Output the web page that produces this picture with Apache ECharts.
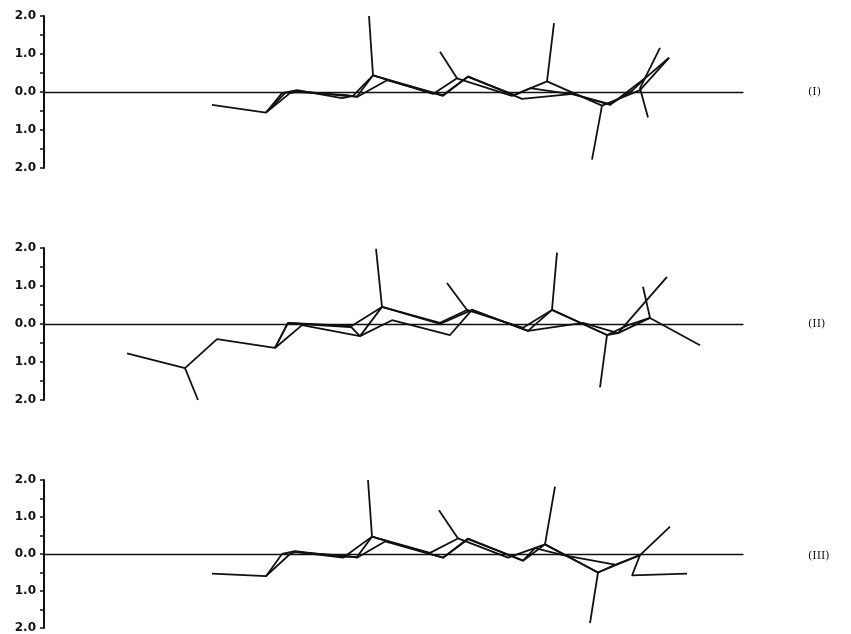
<!DOCTYPE html>
<html>
<head>
<meta charset="utf-8">
<script src="https://cdn.jsdelivr.net/npm/echarts@6/dist/echarts.min.js"></script>
<style>
  html, body { margin: 0; padding: 0; background: #fff; }
  #chart { width: 851px; height: 634px; }
</style>
</head>
<body>
<div id="chart"></div>
<script>
// Three stacked traces (I, II, III). x = position along the chain, y = displacement.
// Each panel: a few overlapping chains plus the short side sticks.

const panelNames = ["(I)", "(II)", "(III)"];

const p1ChainA = [[168,-0.34],[222,-0.54],[238,-0.03],[253,0.05],[298,-0.16],[309,-0.1],[329,0.44],[389,-0.05],[413,0.36],[468,-0.1],[503,0.28],[558,-0.36],[596,0.05],[625,0.9]];
const p1ChainB = [[222,-0.54],[246,-0.03],[253,0.0],[303,-0.08],[313,-0.13],[343,0.31],[399,-0.1],[424,0.41],[478,-0.18],[529,-0.05],[566,-0.34],[601,0.36],[625,0.9]];
const p1ChainC = [[222,-0.54],[241,-0.03],[253,0.03],[301,-0.1],[313,-0.12],[329,0.44],[391,-0.03],[399,-0.08],[424,0.4],[471,-0.08],[486,0.1],[529,-0.06],[566,-0.32],[588,0.03],[601,0.36]];
const p1Sticks = [
  [[329,0.44],[325,2.0]],
  [[413,0.36],[396,1.06]],
  [[503,0.28],[510,1.81]],
  [[558,-0.36],[548,-1.78]],
  [[616,1.16],[596,0.1],[604,-0.67]]
];

const p2ChainA = [[83,-0.77],[141,-1.16],[173,-0.4],[231,-0.63],[244,0.03],[258,0.0],[306,-0.08],[338,0.45],[396,0.03],[423,0.37],[479,-0.1],[508,0.37],[539,0.0],[563,-0.29],[584,-0.03],[606,0.16],[656,-0.56]];
const p2ChainB = [[231,-0.63],[258,-0.03],[316,-0.32],[338,0.45],[396,0.0],[428,0.37],[484,-0.18],[508,0.37],[563,-0.29],[574,-0.24],[623,1.24]];
const p2ChainC = [[231,-0.63],[244,0.03],[306,-0.05],[316,-0.32],[348,0.1],[406,-0.29],[428,0.37],[484,-0.18],[539,0.03],[574,-0.24],[606,0.16]];
const p2Sticks = [
  [[141,-1.16],[154,-2.0]],
  [[338,0.45],[332,1.98]],
  [[423,0.37],[403,1.08]],
  [[508,0.37],[513,1.88]],
  [[563,-0.29],[556,-1.67]],
  [[606,0.16],[599,0.98]]
];

const p3ChainA = [[168,-0.53],[222,-0.6],[238,0.0],[251,0.08],[299,-0.08],[313,-0.08],[328,0.47],[386,0.03],[414,0.42],[464,-0.1],[501,0.26],[554,-0.5],[596,-0.03],[626,0.74]];
const p3ChainB = [[222,-0.6],[246,0.0],[251,0.05],[303,-0.05],[313,-0.1],[341,0.34],[399,-0.1],[424,0.42],[479,-0.18],[491,0.16],[519,-0.03],[571,-0.29],[596,-0.03],[588,-0.58],[643,-0.53]];
const p3ChainC = [[251,0.06],[299,-0.1],[328,0.47],[386,0.0],[399,-0.1],[424,0.4],[479,-0.18],[501,0.26],[554,-0.5],[571,-0.29]];
const p3Sticks = [
  [[328,0.47],[324,2.0]],
  [[414,0.42],[395,1.18]],
  [[501,0.26],[511,1.82]],
  [[554,-0.5],[546,-1.87]]
];

const panels = [
  { chains: [p1ChainA, p1ChainB, p1ChainC], sticks: p1Sticks, top: 16 },
  { chains: [p2ChainA, p2ChainB, p2ChainC], sticks: p2Sticks, top: 248 },
  { chains: [p3ChainA, p3ChainB, p3ChainC], sticks: p3Sticks, top: 480 }
];

const INK = "#111";
const grids = [], xAxes = [], yAxes = [], series = [], texts = [];

panels.forEach((p, i) => {
  grids.push({ left: 44, right: 108, top: p.top, height: 152 });
  xAxes.push({
    type: "value", gridIndex: i, min: 0, max: 699,
    axisLine: { onZero: true, lineStyle: { color: INK, width: 1.3 } },
    axisTick: { show: false }, axisLabel: { show: false }, splitLine: { show: false }
  });
  yAxes.push({
    type: "value", gridIndex: i, min: -2, max: 2, interval: 0.5,
    axisLine: { show: true, lineStyle: { color: INK, width: 2 } },
    axisTick: { show: true, length: 4, lineStyle: { color: INK, width: 1.5 } },
    axisLabel: {
      color: INK, fontFamily: "DejaVu Sans", fontWeight: "bold", fontSize: 12, margin: 8,
      formatter: (v) => (Number.isInteger(v) ? Math.abs(v).toFixed(1) : "")
    },
    splitLine: { show: false }
  });
  const line = (data) => ({
    type: "line", xAxisIndex: i, yAxisIndex: i, data, symbol: "none",
    lineStyle: { color: INK, width: 1.8 }, silent: true
  });
  p.chains.forEach((c) => series.push(line(c)));
  p.sticks.forEach((s) => series.push(line(s)));
  texts.push({
    type: "text", left: 808, top: p.top + 71,
    style: { text: panelNames[i], fill: INK, font: "11px 'DejaVu Serif'" }
  });
});

const chart = echarts.init(document.getElementById("chart"), null, { renderer: "canvas" });
chart.setOption({
  animation: false,
  backgroundColor: "#fff",
  grid: grids,
  xAxis: xAxes,
  yAxis: yAxes,
  series,
  graphic: texts
});
</script>
</body>
</html>
